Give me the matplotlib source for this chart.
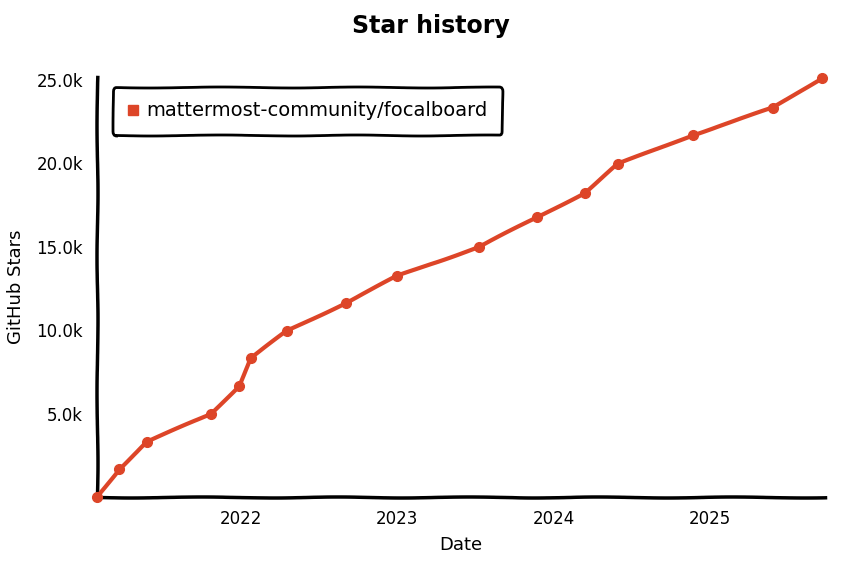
import matplotlib
matplotlib.use("Agg")
import matplotlib.pyplot as plt
import matplotlib.dates as mdates
from matplotlib.lines import Line2D
from matplotlib.ticker import FuncFormatter
import pandas as pd

# data
repo = "mattermost-community/focalboard"
dates = ["2021-01-30", "2021-03-23", "2021-05-26", "2021-10-23", "2021-12-27",
         "2022-01-24", "2022-04-18", "2022-09-04", "2023-01-01", "2023-07-10",
         "2023-11-24", "2024-03-14", "2024-05-30", "2024-11-21", "2025-05-28",
         "2025-09-20"]
stars = [0, 1680, 3300, 4980, 6650, 8320, 9950, 11650, 13250, 14990,
         16770, 18240, 19960, 21700, 23340, 25140]
year_ticks = ["2022-01-01", "2023-01-01", "2024-01-01", "2025-01-01"]
y_ticks = [5000, 10000, 15000, 20000, 25000]

red = "#dd4528"

plt.xkcd(scale=0.5, length=150, randomness=2)
plt.rcParams['font.family'] = ['DejaVu Sans']
plt.rcParams['path.effects'] = []

x = pd.to_datetime(dates)

fig = plt.figure(figsize=(8.48, 5.63), dpi=100)
ax = fig.add_axes([0.1144, 0.1172, 0.8585, 0.746])

ax.plot(x, stars, color=red, lw=3, marker="o", ms=7, zorder=3, clip_on=False)

ax.set_xlim(x[0], pd.Timestamp("2025-09-26"))
ax.set_ylim(0, 25180)

ax.set_xticks(pd.to_datetime(year_ticks))
ax.xaxis.set_major_formatter(mdates.DateFormatter("%Y"))
ax.set_yticks(y_ticks)
ax.yaxis.set_major_formatter(FuncFormatter(lambda v, p: f"{v/1000:.1f}k"))
ax.tick_params(length=0, labelsize=12)
ax.tick_params(axis="y", pad=10)
ax.tick_params(axis="x", pad=9)

for s in ["top", "right"]:
    ax.spines[s].set_visible(False)
for s in ["left", "bottom"]:
    ax.spines[s].set_linewidth(2.5)

ax.set_xlabel("Date", fontsize=13, labelpad=6)
ax.set_ylabel("GitHub Stars", fontsize=13, labelpad=8)
fig.suptitle("Star history", fontsize=17, fontweight="bold", x=0.508, y=0.975)

handle = Line2D([], [], color=red, marker="s", ls="none", ms=7)
leg = ax.legend([handle], [repo], loc="upper left", bbox_to_anchor=(0.008, 1.0),
                fontsize=14, frameon=True, fancybox=True, handlelength=0.6,
                handletextpad=0.4, borderpad=0.75, framealpha=1)
leg.get_frame().set_edgecolor("black")
leg.get_frame().set_linewidth(2)

fig.savefig("out.png", dpi=100)
